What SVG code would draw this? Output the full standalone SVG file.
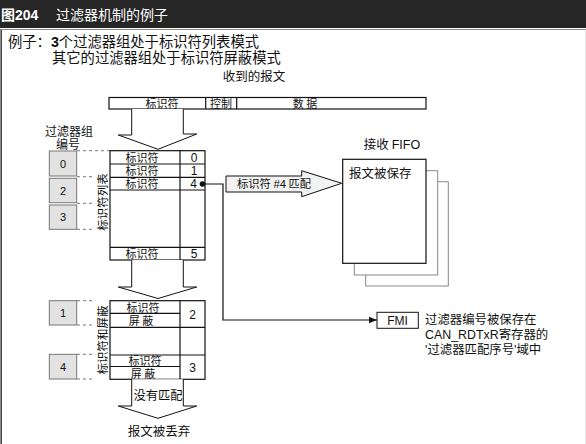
<svg xmlns="http://www.w3.org/2000/svg" width="586" height="444" viewBox="0 0 586 444">
<style>
.cjk{font-family:"Noto Sans CJK SC","Liberation Sans",sans-serif;fill:#111}
.lat{font-family:"Liberation Sans","Noto Sans CJK SC",sans-serif;fill:#111}
.ln{fill:none;stroke:#111;stroke-width:1.2}
.tb{fill:#fff;stroke:#111;stroke-width:1.2}
.fb{fill:#e2e2e2;stroke:#777;stroke-width:1}
.dash{stroke:#555;stroke-width:0.8;stroke-dasharray:3 3;fill:none}
.arr{fill:#fff;stroke:#111;stroke-width:1}
.s11{font-size:11px}
.s12{font-size:12px}
.s125{font-size:12.5px}
</style>
<defs>
<marker id="ah" viewBox="0 0 10 10" refX="10" refY="5" markerWidth="8" markerHeight="8" markerUnits="userSpaceOnUse" orient="auto">
<path d="M0,1 L10,5 L0,9 Z" fill="#111"/>
</marker>
</defs>
<rect width="586" height="444" fill="#fff"/>
<g id="header">
<rect x="0" y="0" width="586" height="28" fill="#262626"/>
<line x1="0" y1="29.5" x2="586" y2="29.5" stroke="#888" stroke-width="1"/>
<line x1="1.2" y1="30" x2="1.2" y2="444" stroke="#444" stroke-width="1.6"/>
<line x1="585.4" y1="30" x2="585.4" y2="444" stroke="#ddd" stroke-width="0.8"/>
<text x="1" y="20" font-family="Liberation Sans,Noto Sans CJK SC,sans-serif" font-size="14" font-weight="bold" fill="#fff">图204</text>
<text x="56" y="20" font-family="Noto Sans CJK SC,sans-serif" font-size="14" fill="#fff">过滤器机制的例子</text>
</g>
<g id="example">
<text x="8" y="47" class="cjk" font-size="14.3">例子：<tspan font-family="Liberation Sans,sans-serif" font-weight="bold">3</tspan>个过滤器组处于标识符列表模式</text>
<text x="52" y="63" class="cjk" font-size="14.3">其它的过滤器组处于标识符屏蔽模式</text>
</g>
<g id="message">
<text x="254" y="81" class="cjk s125" text-anchor="middle">收到的报文</text>
<rect x="109" y="97.5" width="317" height="11.5" class="tb"/>
<line x1="205.7" y1="97.5" x2="205.7" y2="109" class="ln"/>
<line x1="236.7" y1="97.5" x2="236.7" y2="109" class="ln"/>
<text x="162" y="107.5" class="cjk s11" text-anchor="middle">标识符</text>
<text x="221" y="107.5" class="cjk s11" text-anchor="middle">控制</text>
<text x="305" y="107.5" class="cjk s11" text-anchor="middle">数 据</text>
</g>
<g id="arrow-in">
<path d="M131.7,109 V135 H118.3 L158,149.3 L196.7,134 H183.3 V109" class="arr"/>
</g>
<g id="filter-banks">
<text x="69" y="136" class="cjk s12" text-anchor="middle">过滤器组</text>
<text x="68" y="149" class="cjk s12" text-anchor="middle">编号</text>
<g id="bank0"><rect x="49.3" y="151" width="27.4" height="25" class="fb"/><text x="63" y="167.5" class="lat s11" text-anchor="middle">0</text></g>
<g id="bank2"><rect x="49.3" y="178.3" width="27.4" height="24.4" class="fb"/><text x="63" y="194.5" class="lat s11" text-anchor="middle">2</text></g>
<g id="bank3"><rect x="49.3" y="205" width="27.4" height="24.3" class="fb"/><text x="63" y="221" class="lat s11" text-anchor="middle">3</text></g>
<g id="bank1"><rect x="49.3" y="300.7" width="27.4" height="24.3" class="fb"/><text x="63" y="316.5" class="lat s11" text-anchor="middle">1</text></g>
<g id="bank4"><rect x="49.3" y="354.3" width="27.4" height="24.7" class="fb"/><text x="63" y="370.5" class="lat s11" text-anchor="middle">4</text></g>
<path d="M77,150.7 H110 M77,176.7 H95 M77,203.3 H95 M77,229.3 H95 M77,300.7 H95 M77,325 H95 M77,354.3 H95 M77,379 H95" class="dash"/>
</g>
<g id="list-table">
<rect x="110" y="150.7" width="95" height="109.3" class="tb"/>
<line x1="180" y1="150.7" x2="180" y2="260" class="ln"/>
<path d="M110,164 H205 M110,177.3 H205 M110,190 H205 M110,247.3 H205" class="ln"/>
<text x="142" y="161.5" class="cjk s11" text-anchor="middle">标识符</text>
<text x="142" y="174.5" class="cjk s11" text-anchor="middle">标识符</text>
<text x="142" y="187.5" class="cjk s11" text-anchor="middle">标识符</text>
<text x="142" y="258" class="cjk s11" text-anchor="middle">标识符</text>
<text x="194" y="161.5" class="lat s12" text-anchor="middle">0</text>
<text x="194" y="174.5" class="lat s12" text-anchor="middle">1</text>
<text x="197" y="188" class="lat s12" text-anchor="end">4</text>
<text x="194" y="258" class="lat s12" text-anchor="middle">5</text>
<circle cx="202.5" cy="184" r="2.8" fill="#111"/>
<text transform="translate(107,202) rotate(-90)" class="cjk" font-size="11.5" text-anchor="middle">标识符列表</text>
</g>
<g id="arrow-mid">
<path d="M131.7,260 V287 H118.3 L158,298.5 L196.7,287 H183.3 V260" class="arr"/>
</g>
<g id="mask-table">
<rect x="110" y="300.7" width="95" height="78.6" class="tb"/>
<line x1="180" y1="300.7" x2="180" y2="379.3" class="ln"/>
<path d="M110,313.3 H180 M110,327.3 H205 M110,355 H205 M110,366.5 H180" class="ln"/>
<text x="143" y="311.5" class="cjk s11" text-anchor="middle">标识符</text>
<text x="141" y="325" class="cjk s11" text-anchor="middle">屏 蔽</text>
<text x="145" y="364.5" class="cjk s11" text-anchor="middle">标识符</text>
<text x="143" y="377.5" class="cjk s11" text-anchor="middle">屏 蔽</text>
<text x="192.5" y="319" class="lat s12" text-anchor="middle">2</text>
<text x="192.5" y="372" class="lat s12" text-anchor="middle">3</text>
<text transform="translate(107,340) rotate(-90)" class="cjk" font-size="11.5" text-anchor="middle">标识符和屏蔽</text>
</g>
<g id="arrow-out">
<path d="M131.7,379.3 V406 H118.3 L158,418.3 L196.7,406 H183.3 V379.3" class="arr"/>
<text x="158" y="400" class="cjk" font-size="12.3" text-anchor="middle">没有匹配</text>
<text x="159" y="436" class="cjk s125" text-anchor="middle">报文被丢弃</text>
</g>
<g id="match-arrow">
<path d="M226,176 H301.7 V170.7 L341.7,183.3 L301.7,196.7 V192 H226 Z" fill="#f2f2f2" stroke="#111" stroke-width="1"/>
<text x="237" y="188" class="cjk" font-size="11.3">标识符 <tspan class="lat">#4</tspan> 匹配</text>
</g>
<g id="fifo">
<text x="392" y="149" class="cjk s125" text-anchor="middle">接收 <tspan class="lat">FIFO</tspan></text>
<rect x="365.7" y="181.7" width="82.6" height="104.3" fill="#fff" stroke="#888" stroke-width="1"/>
<rect x="354.3" y="170.7" width="83.4" height="104.3" fill="#fff" stroke="#888" stroke-width="1"/>
<rect x="342.7" y="159.3" width="83.3" height="104" fill="#fff" stroke="#111" stroke-width="1.2"/>
<text x="349" y="177.5" class="cjk s125">报文被保存</text>
</g>
<g id="connectors">
<path d="M205,184 H223 V320 H377" class="ln" stroke-width="1" marker-end="url(#ah)"/>
</g>
<g id="fmi">
<rect x="377" y="312.3" width="41.3" height="16" fill="#fff" stroke="#111" stroke-width="1"/>
<text x="397.6" y="324.5" class="lat s12" text-anchor="middle">FMI</text>
</g>
<g id="note">
<text x="425" y="324" class="cjk" font-size="12.4">过滤器编号被保存在</text>
<text x="425" y="339" class="cjk" font-size="12.4"><tspan class="lat">CAN_RDTxR</tspan>寄存器的</text>
<text x="425" y="353.5" class="cjk" font-size="12.4"><tspan class="lat">'</tspan>过滤器匹配序号<tspan class="lat">'</tspan>域中</text>
</g>
</svg>
